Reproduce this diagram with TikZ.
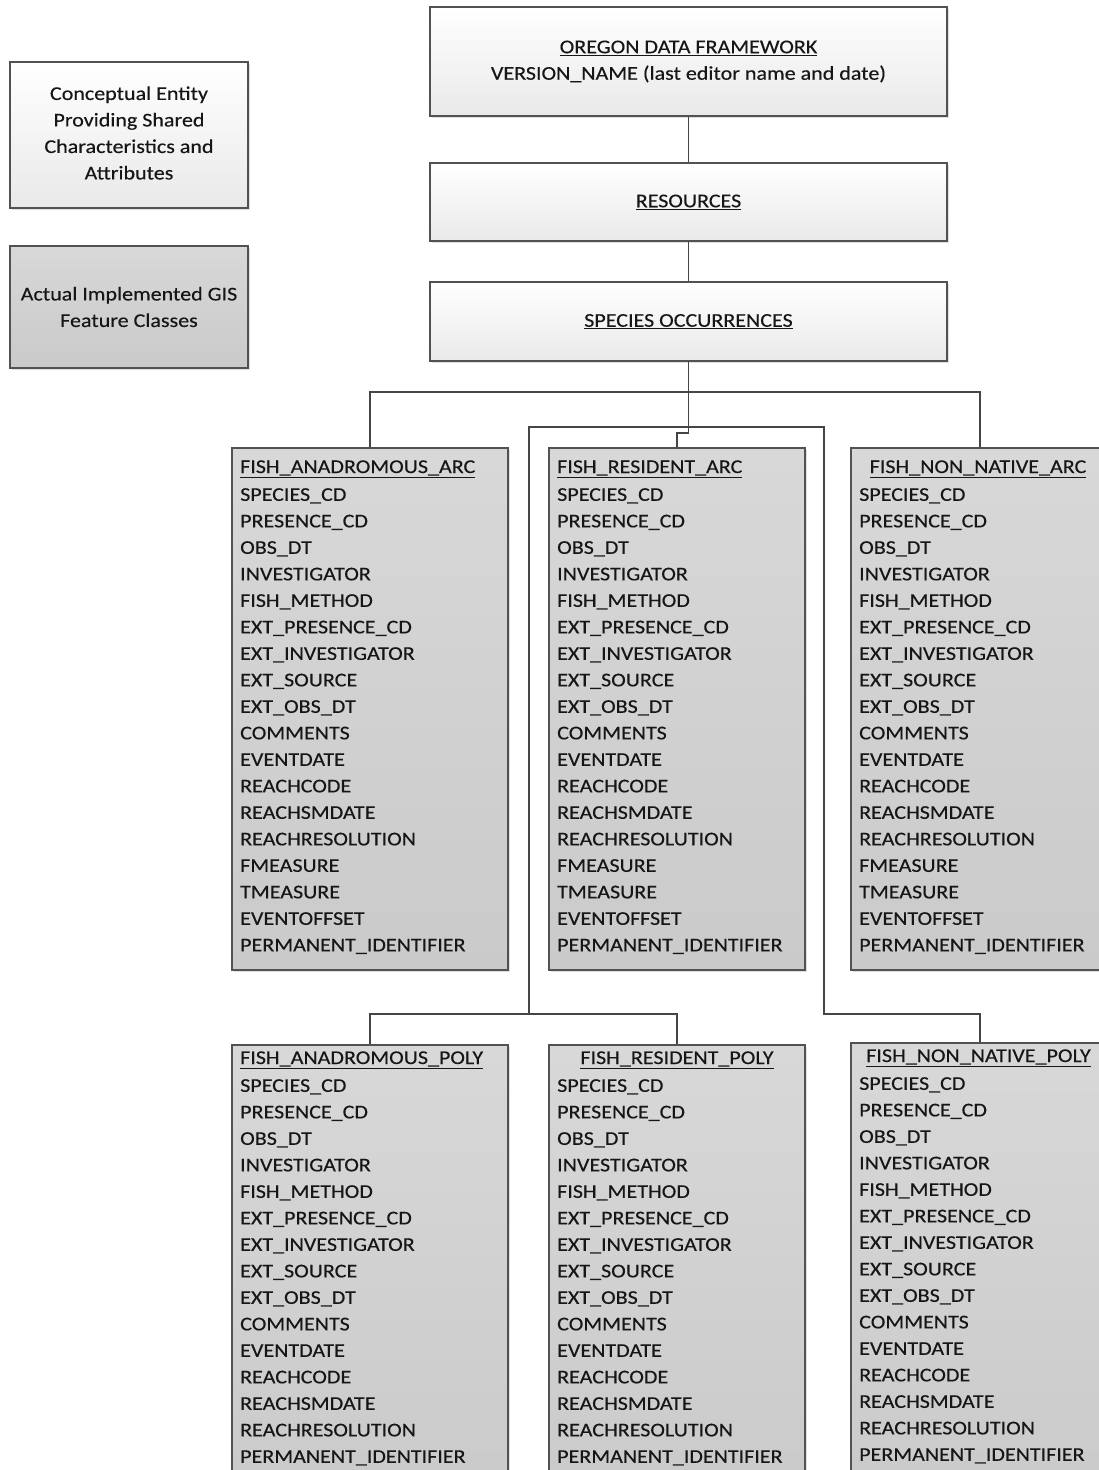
\documentclass[tikz,border=0pt]{standalone}
\usepackage{fontspec}
\setmainfont{Carlito}[FakeStretch=1.13, FakeBold=0.3]
\usetikzlibrary{shadows}
\definecolor{edgec}{HTML}{525252}
\definecolor{ink}{HTML}{161616}
\definecolor{wtop}{HTML}{FFFFFF}
\definecolor{wbot}{HTML}{E9E9E9}
\definecolor{gtop}{HTML}{D8D8D8}
\definecolor{gbot}{HTML}{CACACA}
\definecolor{wirec}{HTML}{454545}
\newcommand\fsz{\fontsize{19.5}{26.5}\selectfont}
\newcommand\arcfieldlist{SPECIES\_CD\\PRESENCE\_CD\\OBS\_DT\\INVESTIGATOR\\FISH\_METHOD\\EXT\_PRESENCE\_CD\\EXT\_INVESTIGATOR\\EXT\_SOURCE\\EXT\_OBS\_DT\\COMMENTS\\EVENTDATE\\REACHCODE\\REACHSMDATE\\REACHRESOLUTION\\FMEASURE\\TMEASURE\\EVENTOFFSET\\PERMANENT\_IDENTIFIER}
\newcommand\polyfieldlist{SPECIES\_CD\\PRESENCE\_CD\\OBS\_DT\\INVESTIGATOR\\FISH\_METHOD\\EXT\_PRESENCE\_CD\\EXT\_INVESTIGATOR\\EXT\_SOURCE\\EXT\_OBS\_DT\\COMMENTS\\EVENTDATE\\REACHCODE\\REACHSMDATE\\REACHRESOLUTION\\PERMANENT\_IDENTIFIER}
\tikzset{
  boxbase/.style={draw=edgec, line width=1.5pt, inner sep=0pt, text=ink, align=center, font=\fsz,
    drop shadow={shadow xshift=2pt, shadow yshift=-2pt, opacity=0.25}},
  entbox/.style={boxbase, top color=wtop, bottom color=wbot},
  featbox/.style={boxbase, top color=gtop, bottom color=gbot},
  fieldtext/.style={anchor=north west, inner sep=0pt, align=left, text=ink, font=\fsz},
  titletext/.style={inner sep=0pt, text=ink, font=\fsz},
  wire/.style={draw=wirec, line width=1.3pt}
}
\begin{document}
\begin{tikzpicture}[x=1pt,y=-1pt]
\useasboundingbox (0,0) rectangle (1099,1470);
\clip (0,0) rectangle (1099,1470);
\fill[white] (0,0) rectangle (1099,1470);

% connector junctions
\coordinate (b1) at (688.5,392);
\coordinate (jog) at (677,433);
\coordinate (lb) at (529,427);
\coordinate (lj) at (529,1014);
\coordinate (rb) at (824,427);
\coordinate (rj) at (824,1014);

% legend
\node[entbox, minimum width=238pt, minimum height=146pt] (leg1) at (129,135) {};
\node[titletext, align=center] (leg1t) at (129,133)
  {Conceptual Entity\\Providing Shared\\Characteristics and\\Attributes};
\node[featbox, minimum width=238pt, minimum height=122pt] (leg2) at (129,307)
  {Actual Implemented GIS\\Feature Classes};

% hierarchy boxes
\node[entbox, minimum width=517pt, minimum height=109pt] (odf) at (688.5,61.5)
  {\underline{OREGON DATA FRAMEWORK}\\VERSION\_NAME (last editor name and date)};
\node[entbox, minimum width=517pt, minimum height=78pt] (res) at (688.5,202)
  {\underline{RESOURCES}};
\node[entbox, minimum width=517pt, minimum height=79pt] (spec) at (688.5,321.5)
  {\underline{SPECIES OCCURRENCES}};

\node[featbox, minimum width=276pt, minimum height=522pt] (aarc) at (370,709) {};
\node[featbox, minimum width=256pt, minimum height=522pt] (rarc) at (677,709) {};
\node[featbox, minimum width=258pt, minimum height=522pt] (narc) at (980,709) {};

\node[featbox, minimum width=276pt, minimum height=455pt] (apoly) at (370,1272.5) {};
\node[featbox, minimum width=256pt, minimum height=455pt] (rpoly) at (677,1272.5) {};
\node[featbox, minimum width=258pt, minimum height=457pt] (npoly) at (980,1271.5) {};

% connectors
\draw[wire] (odf.south) -- (res.north);
\draw[wire] (res.south) -- (spec.north);
\draw[wire] (spec.south) |- (b1) -| (aarc.north);
\draw[wire] (b1) -| (narc.north);
\draw[wire] (spec.south) |- (jog) -| (rarc.north);
\draw[wire] (spec.south) |- (lb) -- (lj) -| (apoly.north);
\draw[wire] (lj) -| (rpoly.north);
\draw[wire] (spec.south) |- (rb) -- (rj) -| (npoly.north);

% titles
\node[titletext, anchor=base west] (aarct) at (240,473) {\underline{FISH\_ANADROMOUS\_ARC}};
\node[titletext, anchor=base west] (rarct) at (557,473) {\underline{FISH\_RESIDENT\_ARC}};
\node[titletext, anchor=base] (narct) at (978,473) {\underline{FISH\_NON\_NATIVE\_ARC}};
\node[titletext, anchor=base west] (apolyt) at (240,1064) {\underline{FISH\_ANADROMOUS\_POLY}};
\node[titletext, anchor=base] (rpolyt) at (677,1064) {\underline{FISH\_RESIDENT\_POLY}};
\node[titletext, anchor=base] (npolyt) at (978.5,1062) {\underline{FISH\_NON\_NATIVE\_POLY}};

% field lists
\node[fieldtext] (aarcf) at (240,488) {\arcfieldlist};
\node[fieldtext] (rarcf) at (557,488) {\arcfieldlist};
\node[fieldtext] (narcf) at (859,488) {\arcfieldlist};
\node[fieldtext] (apolyf) at (240,1079) {\polyfieldlist};
\node[fieldtext] (rpolyf) at (557,1079) {\polyfieldlist};
\node[fieldtext] (npolyf) at (859,1077) {\polyfieldlist};
\end{tikzpicture}
\end{document}
